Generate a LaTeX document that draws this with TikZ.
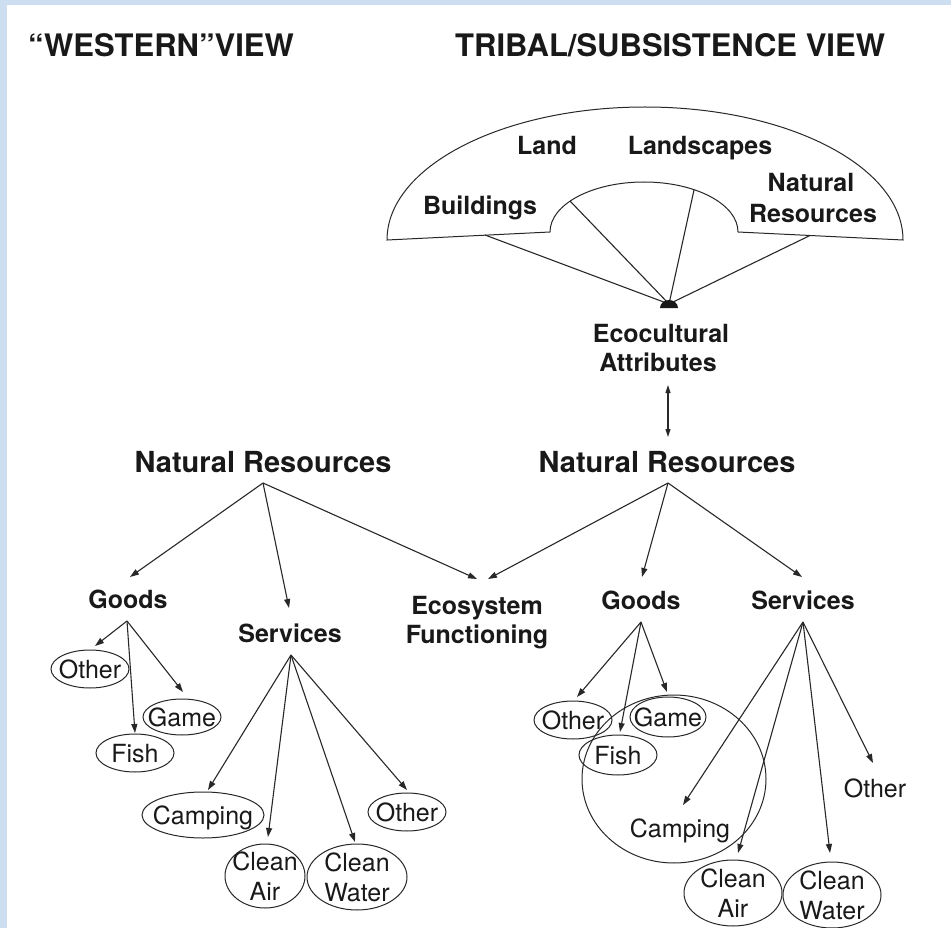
\documentclass[tikz,border=0pt]{standalone}
\usepackage{fontspec}
\setmainfont{TeX Gyre Heros}
\usetikzlibrary{arrows.meta,shapes.geometric}
\definecolor{bgblue}{RGB}{205,222,240}
\definecolor{ink}{RGB}{25,25,25}
\definecolor{wire}{RGB}{40,40,40}

\begin{document}
\begin{tikzpicture}[x=1pt,y=-1pt,
  every node/.style={inner sep=0pt, text=ink},
  head/.style={font=\fontsize{31}{31}\selectfont\bfseries, anchor=base west},
  big/.style={font=\fontsize{29}{29}\selectfont\bfseries, anchor=base},
  lab/.style={font=\fontsize{25}{25}\selectfont\bfseries, anchor=base},
  item/.style={font=\fontsize{25}{30}\selectfont, text height=18pt, text depth=0pt},
  item2/.style={font=\fontsize{25}{30}\selectfont, align=center},
  plain/.style={font=\fontsize{25}{25}\selectfont, anchor=base},
  ovl/.style={draw=wire, line width=1pt},
  link/.style={draw=wire, line width=1.1pt},
  arr/.style={link, -{Triangle[length=9pt,width=6pt]}},
  dbl/.style={link, {Triangle[length=8pt,width=5pt]}-{Triangle[length=8pt,width=5pt]}},
]
% page and panel
\fill[bgblue] (0,0) rectangle (951,928);
\fill[white] (7,5) rectangle (951,928);
\useasboundingbox (0,0) rectangle (951,928);

% headings
\node[head] (hw) at (28,57) {“WESTERN”VIEW};
\node[head] (ht) at (455,57) {TRIBAL/SUBSISTENCE VIEW};

% the fan-shaped viewing band
\draw[ovl] (387,240) -- (550,232)
  arc[start angle=180, end angle=360, x radius=94, y radius=50]
  -- (903,240)
  arc[start angle=0, end angle=-180, x radius=258, y radius=133] -- cycle;

\node[lab] (land) at (547,155) {Land};
\node[lab] (lscp) at (700,155) {Landscapes};
\node[lab] (bldg) at (480,215) {Buildings};
\node[lab] (natA) at (811,192) {Natural};
\node[lab] (natB) at (813,223) {Resources};

% viewpoint and its rays
\coordinate (ap) at (669,304);
\coordinate (fa) at (485,235);
\coordinate (fb) at (570,201);
\coordinate (fc) at (694,190);
\coordinate (fd) at (810,235.5);
\draw[link] (fa) -- (ap) -- (fb);
\draw[link] (fc) -- (ap) -- (fd);
\fill[ink] (660,308) arc[start angle=180, end angle=360, x radius=9, y radius=8] -- cycle;

\node[lab] (ecoA) at (661,342) {Ecocultural};
\node[lab] (ecoB) at (658,371) {Attributes};
\coordinate (dA) at (668,385);
\coordinate (dB) at (668,437);
\draw[dbl] (dA) -- (dB);

% natural resources, both views
\node[big] (nrL) at (263,472) {Natural Resources};
\node[big] (nrR) at (667,472) {Natural Resources};
\coordinate (nrLa) at (263,483);
\coordinate (nrRa) at (668,483);

\node[lab] (gdL) at (128,608) {Goods};
\node[lab] (svL) at (290,642) {Services};
\node[lab] (esA) at (477,614) {Ecosystem};
\node[lab] (esB) at (477,643) {Functioning};
\node[lab] (gdR) at (641,609) {Goods};
\node[lab] (svR) at (803,609) {Services};

\coordinate (gdLt) at (130,577);
\coordinate (svLt) at (289,608);
\coordinate (esLt) at (477,579);
\coordinate (esRt) at (488,579);
\coordinate (gdRt) at (642,577);
\coordinate (svRt) at (802,577);

\draw[arr] (nrLa) -- (gdLt);
\draw[arr] (nrLa) -- (svLt);
\draw[arr] (nrLa) -- (esLt);
\draw[arr] (nrRa) -- (esRt);
\draw[arr] (nrRa) -- (gdRt);
\draw[arr] (nrRa) -- (svRt);

% western goods
\coordinate (gdLa) at (127,621);
\node[item] (oL) at (90,669) {Other};
\node[item] (fL) at (135,753) {Fish};
\node[item] (gL) at (182,717) {Game};
\draw[ovl] (oL.center) ellipse[x radius=39, y radius=19];
\draw[ovl] (fL.center) ellipse[x radius=39, y radius=19];
\draw[ovl] (gL.center) ellipse[x radius=39, y radius=18];
\coordinate (oLt) at (95,646);
\coordinate (fLt) at (135,733);
\coordinate (gLt) at (183,692);
\draw[arr] (gdLa) -- (oLt);
\draw[arr] (gdLa) -- (fLt);
\draw[arr] (gdLa) -- (gLt);

% western services
\coordinate (svLa) at (291,655);
\node[item] (cpL) at (203,815) {Camping};
\node[item2] (caL) at (265,876) {Clean\\Air};
\node[item2] (cwL) at (357,877) {Clean\\Water};
\node[item] (otL) at (407,812) {Other};
\draw[ovl] (cpL.center) ellipse[x radius=61, y radius=23];
\draw[ovl] (caL.center) ellipse[x radius=40, y radius=32];
\draw[ovl] (cwL.center) ellipse[x radius=50, y radius=33];
\draw[ovl] (otL.center) ellipse[x radius=39, y radius=19];
\coordinate (cpLt) at (208,790);
\coordinate (caLt) at (268,837);
\coordinate (cwLt) at (355,842);
\coordinate (otLt) at (407,790);
\draw[arr] (svLa) -- (cpLt);
\draw[arr] (svLa) -- (caLt);
\draw[arr] (svLa) -- (cwLt);
\draw[arr] (svLa) -- (otLt);

% tribal goods
\coordinate (gdRa) at (641,622);
\node[item] (oR) at (573,720) {Other};
\node[item] (fR) at (618,755) {Fish};
\node[item] (gR) at (668,717) {Game};
\draw[ovl] (oR.center) ellipse[x radius=39, y radius=19];
\draw[ovl] (fR.center) ellipse[x radius=39, y radius=20];
\draw[ovl] (gR.center) ellipse[x radius=38, y radius=20];
\coordinate (oRt) at (577,697);
\coordinate (fRt) at (620,732);
\coordinate (gRt) at (667,692);
\draw[arr] (gdRa) -- (oRt);
\draw[arr] (gdRa) -- (fRt);
\draw[arr] (gdRa) -- (gRt);

% the encircling ring on the tribal side
\coordinate (ring) at (674,779);
\draw[ovl] (ring) ellipse[x radius=92, y radius=84];

% tribal services
\coordinate (svRa) at (803,622);
\node[plain] (cpR) at (680,837) {Camping};
\node[plain] (otR) at (875,797) {Other};
\node[item2] (caR) at (733,893) {Clean\\Air};
\node[item2] (cwR) at (832,895) {Clean\\Water};
\draw[ovl] (caR.center) ellipse[x radius=49, y radius=33];
\draw[ovl] (cwR.center) ellipse[x radius=49, y radius=33];
\coordinate (cpRt) at (683,805);
\coordinate (caRt) at (738,853);
\coordinate (cwRt) at (830,853);
\coordinate (otRt) at (873,763);
\draw[arr] (svRa) -- (cpRt);
\draw[arr] (svRa) -- (caRt);
\draw[arr] (svRa) -- (cwRt);
\draw[arr] (svRa) -- (otRt);
\end{tikzpicture}
\end{document}
